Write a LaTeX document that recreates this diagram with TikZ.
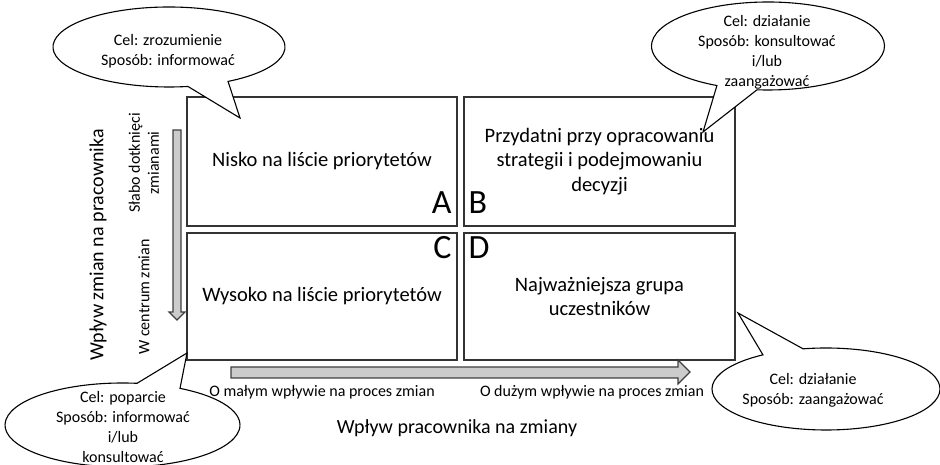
\documentclass[tikz,border=0pt]{standalone}
\usepackage{fontspec}
\setmainfont{Carlito}
\usetikzlibrary{calc}
\begin{document}
\begin{tikzpicture}[x=1pt,y=1pt,
  quad/.style={draw=black!80, line width=1.4pt, align=center, inner sep=0pt,
    font=\fontsize{20.5}{24.5}\selectfont},
  letter/.style={inner sep=0pt, font=\fontsize{34}{34}\selectfont},
  bubble/.style={draw=black, line width=1.1pt, fill=white},
  bubbletext/.style={align=center, inner sep=0pt, font=\fontsize{16}{20}\selectfont},
  axis/.style={align=center, inner sep=0pt, font=\fontsize{16}{19}\selectfont},
  axistitle/.style={inner sep=0pt, font=\fontsize{20}{24}\selectfont},
  band/.style={draw=black!75, line width=1.1pt, fill=black!20},
]
\useasboundingbox (0,0) rectangle (940,465);

% the four quadrants
\node[quad, minimum width=270pt, minimum height=129pt] (A) at (322,303.5)
  {Nisko na liście priorytetów};
\node[quad, minimum width=271pt, minimum height=129pt] (B) at (599.5,303.5)
  {Przydatni przy opracowaniu\\strategii i podejmowaniu\\decyzji};
\node[quad, minimum width=270pt, minimum height=127pt] (C) at (322,168.5)
  {Wysoko na liście priorytetów};
\node[quad, minimum width=271pt, minimum height=127pt] (D) at (599.5,168.5)
  {Najważniejsza grupa\\uczestników};

% quadrant letters
\node[letter, anchor=base east] (la) at ($(A.south east)+(-6,13)$) {A};
\node[letter, anchor=base west] (lb) at ($(B.south west)+(5,13)$) {B};
\node[letter, anchor=base east] (lc) at ($(C.north east)+(-6,-26)$) {C};
\node[letter, anchor=base west] (ld) at ($(D.north west)+(5,-26)$) {D};

% axis arrows
\draw[band] (173,335) -- (181,335) -- (181,153) -- (185,153) -- (177,145)
  -- (169,153) -- (173,153) -- cycle;
\draw[band] (231,98) -- (678,98) -- (678,105) -- (690,93) -- (678,81)
  -- (678,87) -- (231,87) -- cycle;

% axis labels
\node[axistitle, rotate=90] (vt) at (98,220) {Wpływ zmian na pracownika};
\node[axis, rotate=90] (vtop) at (144,302) {Słabo dotknięci\\zmianami};
\node[axis, rotate=90] (vbot) at (144,168) {W centrum zmian};
\node[axis] (hl) at (322,73) {O małym wpływie na proces zmian};
\node[axis] (hr) at (592,73) {O dużym wpływie na proces zmian};
\node[axistitle] (ht) at (457,37) {Wpływ pracownika na zmiany};

% speech bubbles
\draw[bubble] (240,347) -- ($(169,418)+(-59.4:116 and 40)$)
  arc[start angle=-59.4, end angle=279.4, x radius=116, y radius=40] -- cycle;
\draw[bubble] (703,333) -- ($(768,419)+(264.6:116.5 and 44)$)
  arc[start angle=264.6, end angle=604, x radius=116.5, y radius=44] -- cycle;
\draw[bubble] (187,112) -- ($(122.5,40)+(82.9:117.5 and 42)$)
  arc[start angle=82.9, end angle=420.7, x radius=117.5, y radius=42] -- cycle;
\draw[bubble] (738,152) -- ($(826,76)+(123.6:114 and 41)$)
  arc[start angle=123.6, end angle=461.6, x radius=114, y radius=41] -- cycle;

\node[bubbletext] (t1) at (168,414) {Cel: zrozumienie\\Sposób: informować};
\node[bubbletext] (t2) at (767,413) {Cel: działanie\\Sposób: konsultować\\i/lub\\zaangażować};
\node[bubbletext] (t3) at (123,38) {Cel: poparcie\\Sposób: informować\\i/lub\\konsultować};
\node[bubbletext] (t4) at (813,75) {Cel: działanie\\Sposób: zaangażować};
\end{tikzpicture}
\end{document}
